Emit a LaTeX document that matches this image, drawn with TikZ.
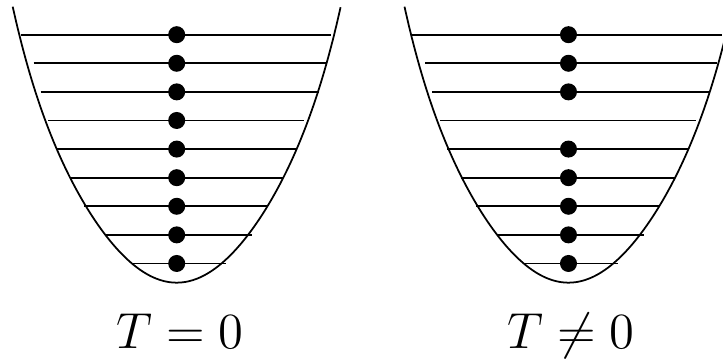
\documentclass[tikz,border=0pt]{standalone}
\usepackage{amsmath,amssymb}
\usepackage{tikz}

\begin{document}
\begin{tikzpicture}[x=0.01cm, y=-0.01cm, line width=0.5pt,
  every node/.style={font=\fontsize{13.75}{16}\selectfont},
  electron/.style={circle,fill,inner sep=0pt,minimum size=0.17cm}]
\useasboundingbox (0,0) rectangle (723,362);
% two wells
\foreach \cx/\w in {176.7/A, 568.5/B} {
  \draw plot[domain=-1.64:1.64, samples=81, smooth]
    ({\cx+100*\x}, {282.7-97.48*\x*\x+9.123*\x*\x*\x*\x-4.102*\x*\x*\x*\x*\x*\x});
  \foreach \y/\l/\r [count=\i] in {34.7/156/154, 63.3/143/149, 91.9/136/142,
      120.5/128.4/127.2, 149.1/121/119.6, 177.7/107/106.3, 206.3/92.5/91.3,
      234.9/71.7/75.8, 263.5/43.2/49.3}
    \draw (\cx-\l,\y) -- (\cx+\r,\y);
}
% occupied levels
\foreach \y [count=\i] in {34.7,63.3,91.9,120.5,149.1,177.7,206.3,234.9,263.5}
  \node[electron] (A\i) at (176.7,\y) {};
\foreach \y/\i in {34.7/1,63.3/2,91.9/3,149.1/5,177.7/6,206.3/7,234.9/8,263.5/9}
  \node[electron] (B\i) at (568.5,\y) {};
\node[anchor=base] (tA) at (180,349) {$T=0$};
\node[anchor=base] (tB) at (571,349) {$T\neq 0$};
\end{tikzpicture}
\end{document}
